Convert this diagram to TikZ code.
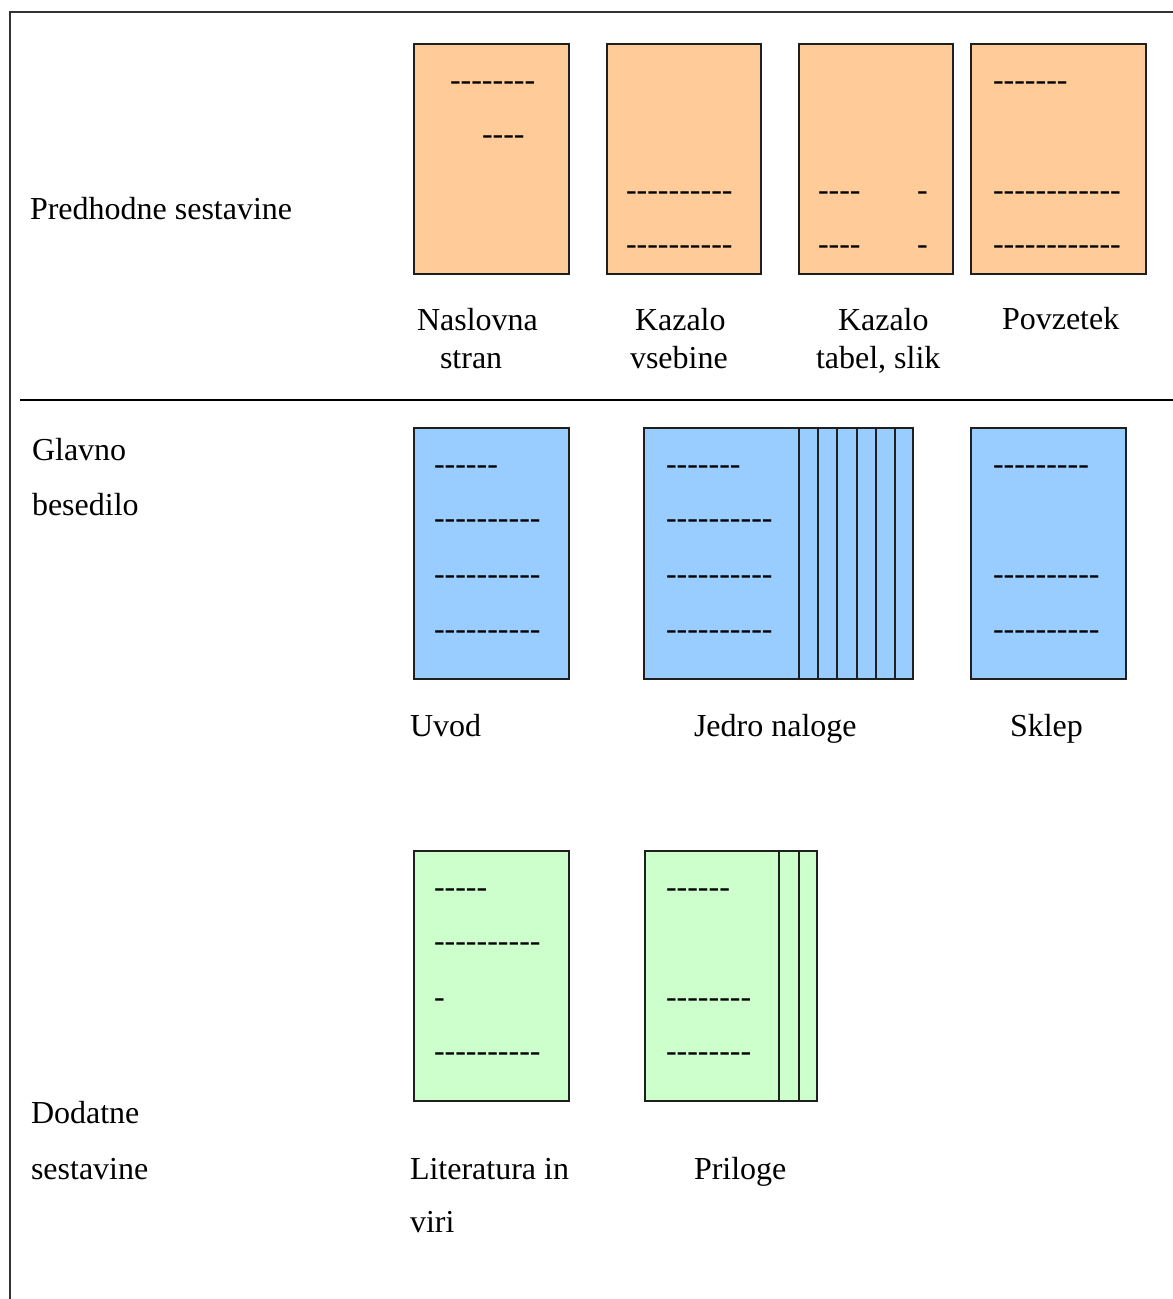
\documentclass[tikz,border=0pt]{standalone}
\usepackage{fontspec}
\setmainfont{Liberation Serif}
\definecolor{peach}{HTML}{FFCC99}
\definecolor{skyb}{HTML}{99CCFF}
\definecolor{mint}{HTML}{CCFFCC}
\newcommand\dl[1]{\foreach \i in {1,...,#1}{\mbox{-}}}
\tikzset{
  every node/.style={font=\fontsize{32}{38}\selectfont, inner sep=0pt, outer sep=0pt},
  lbl/.style={anchor=base west},
  dsh/.style={anchor=base west, yshift=-3pt},
  page/.style={draw=black!88, line width=2pt, anchor=north west},
  sheet/.style={draw=black!88, line width=2pt},
  frameline/.style={draw=black!80, line width=2pt},
}
\begin{document}
\begin{tikzpicture}[x=1pt,y=-1pt]
\useasboundingbox (0,0) rectangle (1173,1299);
% frame and separator
\draw[frameline] (10,1299) -- (10,12) -- (1173,12);
\draw[line width=1.6pt] (20,400) -- (1173,400);

% left labels
\node[lbl] (pred) at (30,219) {Predhodne sestavine};
\node[lbl] (glav1) at (32,460) {Glavno};
\node[lbl] (glav2) at (32,515) {besedilo};
\node[lbl] (dod1) at (31,1123) {Dodatne};
\node[lbl] (dod2) at (31,1179) {sestavine};

% orange pages
\node[page, fill=peach, minimum width=155, minimum height=230] (nasl) at (414,44) {};
\node[page, fill=peach, minimum width=154, minimum height=230] (kvseb) at (607,44) {};
\node[page, fill=peach, minimum width=154, minimum height=230] (ktab) at (799,44) {};
\node[page, fill=peach, minimum width=175, minimum height=230] (povz) at (971,44) {};

\node[dsh] (d1) at (450,87) {\dl{8}};
\node[dsh] (d2) at (482,141) {\dl{4}};
\node[dsh] (d3) at (626,197) {\dl{10}};
\node[dsh] (d4) at (626,251) {\dl{10}};
\node[dsh] (d5) at (818,197) {\dl{4}\hspace{56.4pt}\dl{1}};
\node[dsh] (d6) at (818,251) {\dl{4}\hspace{56.4pt}\dl{1}};
\node[dsh] (d7) at (993,87) {\dl{7}};
\node[dsh] (d8) at (993,197) {\dl{12}};
\node[dsh] (d9) at (993,251) {\dl{12}};

\node[lbl] (l1a) at (417,330) {Naslovna};
\node[lbl] (l1b) at (440,368) {stran};
\node[lbl] (l2a) at (635,330) {Kazalo};
\node[lbl] (l2b) at (630,368) {vsebine};
\node[lbl] (l3a) at (838,330) {Kazalo};
\node[lbl] (l3b) at (816,368) {tabel, slik};
\node[lbl] (l4a) at (1002,329) {Povzetek};

% blue pages
\node[page, fill=skyb, minimum width=155, minimum height=251] (uvod) at (414,428) {};
\node[page, fill=skyb, minimum width=269, minimum height=251] (jedro) at (644,428) {};
\node[page, fill=skyb, minimum width=155, minimum height=251] (sklep) at (971,428) {};
\foreach \xx in {799,818,837,857,876,895}{\draw[sheet] (\xx,428) -- (\xx,679);}

\node[dsh] (e1) at (434,471) {\dl{6}};
\node[dsh] (e2) at (434,525) {\dl{10}};
\node[dsh] (e3) at (434,581) {\dl{10}};
\node[dsh] (e4) at (434,636) {\dl{10}};
\node[dsh] (e5) at (666,471) {\dl{7}};
\node[dsh] (e6) at (666,525) {\dl{10}};
\node[dsh] (e7) at (666,581) {\dl{10}};
\node[dsh] (e8) at (666,636) {\dl{10}};
\node[dsh] (e9) at (993,471) {\dl{9}};
\node[dsh] (e10) at (993,581) {\dl{10}};
\node[dsh] (e11) at (993,636) {\dl{10}};

\node[lbl] (m1) at (410,736) {Uvod};
\node[lbl] (m2) at (694,736) {Jedro naloge};
\node[lbl] (m3) at (1010,736) {Sklep};

% green pages
\node[page, fill=mint, minimum width=155, minimum height=250] (lit) at (414,851) {};
\node[page, fill=mint, minimum width=172, minimum height=250] (pril) at (645,851) {};
\foreach \xx in {779,799}{\draw[sheet] (\xx,851) -- (\xx,1101);}

\node[dsh] (g1) at (434,894) {\dl{5}};
\node[dsh] (g2) at (434,948) {\dl{10}};
\node[dsh] (g3) at (434,1004) {\dl{1}};
\node[dsh] (g4) at (434,1058) {\dl{10}};
\node[dsh] (g5) at (666,894) {\dl{6}};
\node[dsh] (g6) at (666,1004) {\dl{8}};
\node[dsh] (g7) at (666,1058) {\dl{8}};

\node[lbl] (n1) at (410,1179) {Literatura in};
\node[lbl] (n2) at (410,1232) {viri};
\node[lbl] (n3) at (694,1179) {Priloge};
\end{tikzpicture}
\end{document}
